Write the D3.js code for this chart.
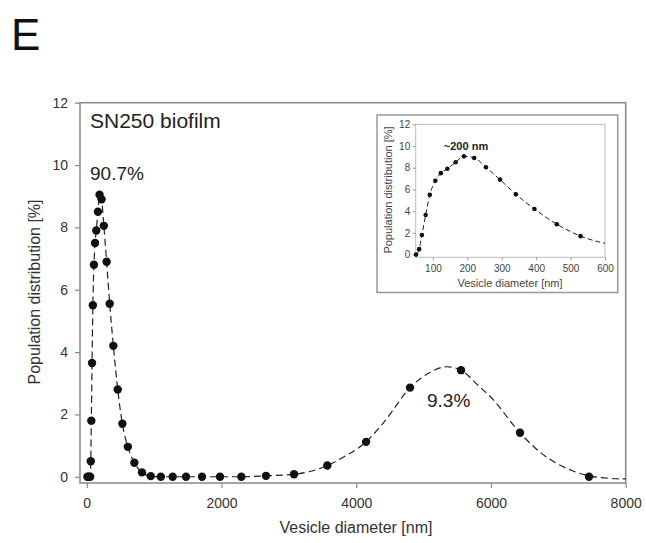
<!DOCTYPE html>
<html><head><meta charset="utf-8">
<script src="https://cdn.jsdelivr.net/npm/d3@7"></script>
<style>body{margin:0;background:#fff}svg{display:block}text{font-family:"Liberation Sans",Arial,sans-serif}</style>
</head><body>
<svg id="c" width="646" height="543"></svg>
<script>
// Measured size distribution (main chart)
const diam = [10, 30, 51, 60, 68, 79, 91, 107, 123, 142, 166, 190, 220, 254, 295, 341, 395, 460, 529, 610, 707, 820, 950, 1100, 1276, 1474, 1711, 1978, 2295, 2661, 3077, 3571, 4146, 4799, 5556, 6431, 7455];
const popul = [0, 0, 0, 0.5, 1.8, 3.65, 5.5, 6.8, 7.5, 7.9, 8.5, 9.05, 8.9, 8.05, 6.9, 5.55, 4.2, 2.8, 1.7, 0.96, 0.45, 0.14, 0.02, 0, 0, 0, 0, 0, 0, 0.03, 0.08, 0.36, 1.12, 2.86, 3.42, 1.41, 0];
// Dashed fitted curve of the second population
const fitX = [3571, 3800, 4146, 4430, 4799, 5100, 5343, 5556, 5800, 6000, 6431, 6750, 6976, 7200, 7455, 7750, 8000];
const fitY = [0.36, 0.62, 1.12, 1.8, 2.86, 3.35, 3.53, 3.42, 2.95, 2.55, 1.41, 0.75, 0.43, 0.2, 0.03, -0.05, -0.07];
// Tick labels
const xTicks = [0, 2000, 4000, 6000, 8000];
const yTicks = [0, 2, 4, 6, 8, 10, 12];
const insetXTicks = [100, 200, 300, 400, 500, 600];
const insetYTicks = [0, 2, 4, 6, 8, 10, 12];

const svg = d3.select("#c");
const data = diam.map((d, i) => ({x: d, y: popul[i]}));
const fit = fitX.map((d, i) => ({x: d, y: fitY[i]}));
const lineData = data.filter(d => d.x < 3571).concat(fit);

// Panel letter
svg.append("text").attr("x", 11).attr("y", 50).attr("font-size", 44)
  .attr("font-family", "'Open Sans',sans-serif").attr("fill", "#111").text("E");

// ---------- main chart ----------
const x = d3.scaleLinear([-100, 8000], [80, 625.7]);
const y = d3.scaleLinear([-0.2, 12], [483, 102.7]);
const axCol = "#888", txtCol = "#333";

svg.append("rect").attr("x", x(-100)).attr("y", y(12)).attr("width", x(8000) - x(-100)).attr("height", y(-0.2) - y(12))
  .attr("fill", "none").attr("stroke", axCol).attr("stroke-width", 1.5);

const gx = svg.append("g").attr("transform", `translate(0,${y(-0.2)})`)
  .call(d3.axisBottom(x).tickValues(xTicks).tickFormat(d3.format("d")).tickSize(5).tickSizeOuter(0).tickPadding(10));
const gy = svg.append("g").attr("transform", `translate(${x(-100)},0)`)
  .call(d3.axisLeft(y).tickValues(yTicks).tickSize(5).tickSizeOuter(0).tickPadding(7));
[gx, gy].forEach(g => {
  g.select(".domain").remove();
  g.selectAll(".tick line").attr("stroke", axCol).attr("stroke-width", 1.2);
  g.selectAll(".tick text").attr("font-size", 14).attr("fill", txtCol).attr("font-family", "'Liberation Sans',Arial,sans-serif");
});

svg.append("text").attr("x", 356).attr("y", 533).attr("text-anchor", "middle").attr("font-size", 16).attr("fill", txtCol)
  .text("Vesicle diameter [nm]");
svg.append("text").attr("transform", `translate(40,292) rotate(-90)`).attr("text-anchor", "middle").attr("font-size", 16).attr("fill", txtCol)
  .text("Population distribution [%]");

const line = d3.line().x(d => x(d.x)).y(d => y(d.y)).curve(d3.curveMonotoneX);
svg.append("path").datum(lineData).attr("d", line).attr("fill", "none").attr("stroke", "#222")
  .attr("stroke-width", 1.2).attr("stroke-dasharray", "7,4");
svg.append("g").selectAll("circle").data(data).join("circle")
  .attr("cx", d => x(d.x)).attr("cy", d => y(d.y)).attr("r", 4.2).attr("fill", "#111");

svg.append("text").attr("x", 90).attr("y", 128).attr("font-size", 21).attr("fill", "#222").text("SN250 biofilm");
svg.append("text").attr("x", 90).attr("y", 180).attr("font-size", 19).attr("fill", "#222").text("90.7%");
svg.append("text").attr("x", 427).attr("y", 407).attr("font-size", 19).attr("fill", "#222").text("9.3%");

// ---------- inset ----------
svg.append("rect").attr("x", 377).attr("y", 115).attr("width", 240.7).attr("height", 177.5)
  .attr("fill", "#fff").attr("stroke", "#999").attr("stroke-width", 1.5);
const xi = d3.scaleLinear([50, 600], [415.7, 605]);
const yi = d3.scaleLinear([-0.25, 12], [257.3, 124.3]);
svg.append("rect").attr("x", xi(50)).attr("y", yi(12)).attr("width", xi(600) - xi(50)).attr("height", yi(-0.25) - yi(12))
  .attr("fill", "none").attr("stroke", "#bbb").attr("stroke-width", 1);
const gxi = svg.append("g").attr("transform", `translate(0,${yi(-0.25)})`)
  .call(d3.axisBottom(xi).tickValues(insetXTicks).tickSize(3).tickSizeOuter(0).tickPadding(4.5));
const gyi = svg.append("g").attr("transform", `translate(${xi(50)},0)`)
  .call(d3.axisLeft(yi).tickValues(insetYTicks).tickSize(3).tickSizeOuter(0).tickPadding(2.5));
[gxi, gyi].forEach(g => {
  g.select(".domain").remove();
  g.selectAll(".tick line").attr("stroke", "#999");
  g.selectAll(".tick text").attr("font-size", 10).attr("fill", "#444").attr("font-family", "'Liberation Sans',Arial,sans-serif");
});
svg.append("text").attr("x", 510).attr("y", 287).attr("text-anchor", "middle").attr("font-size", 11).attr("fill", "#444")
  .text("Vesicle diameter [nm]");
svg.append("text").attr("transform", `translate(392,190) rotate(-90)`).attr("text-anchor", "middle").attr("font-size", 11).attr("fill", "#444")
  .text("Population distribution [%]");

svg.append("clipPath").attr("id", "ic").append("rect")
  .attr("x", xi(50)).attr("y", yi(12)).attr("width", xi(600) - xi(50)).attr("height", yi(-0.25) - yi(12));
const insetData = data.filter(d => d.x <= 700);
const lineI = d3.line().x(d => xi(d.x)).y(d => yi(d.y)).curve(d3.curveMonotoneX);
svg.append("path").datum(insetData).attr("d", lineI).attr("clip-path", "url(#ic)").attr("fill", "none")
  .attr("stroke", "#222").attr("stroke-width", 1).attr("stroke-dasharray", "5,3");
svg.append("g").selectAll("circle").data(data.filter(d => d.x >= 50 && d.x <= 600)).join("circle")
  .attr("cx", d => xi(d.x)).attr("cy", d => yi(d.y)).attr("r", 2.3).attr("fill", "#111");
svg.append("text").attr("x", 466).attr("y", 150).attr("text-anchor", "middle").attr("font-size", 11).attr("font-weight", "bold")
  .attr("fill", "#222").text("~200 nm");
</script>
</body></html>
